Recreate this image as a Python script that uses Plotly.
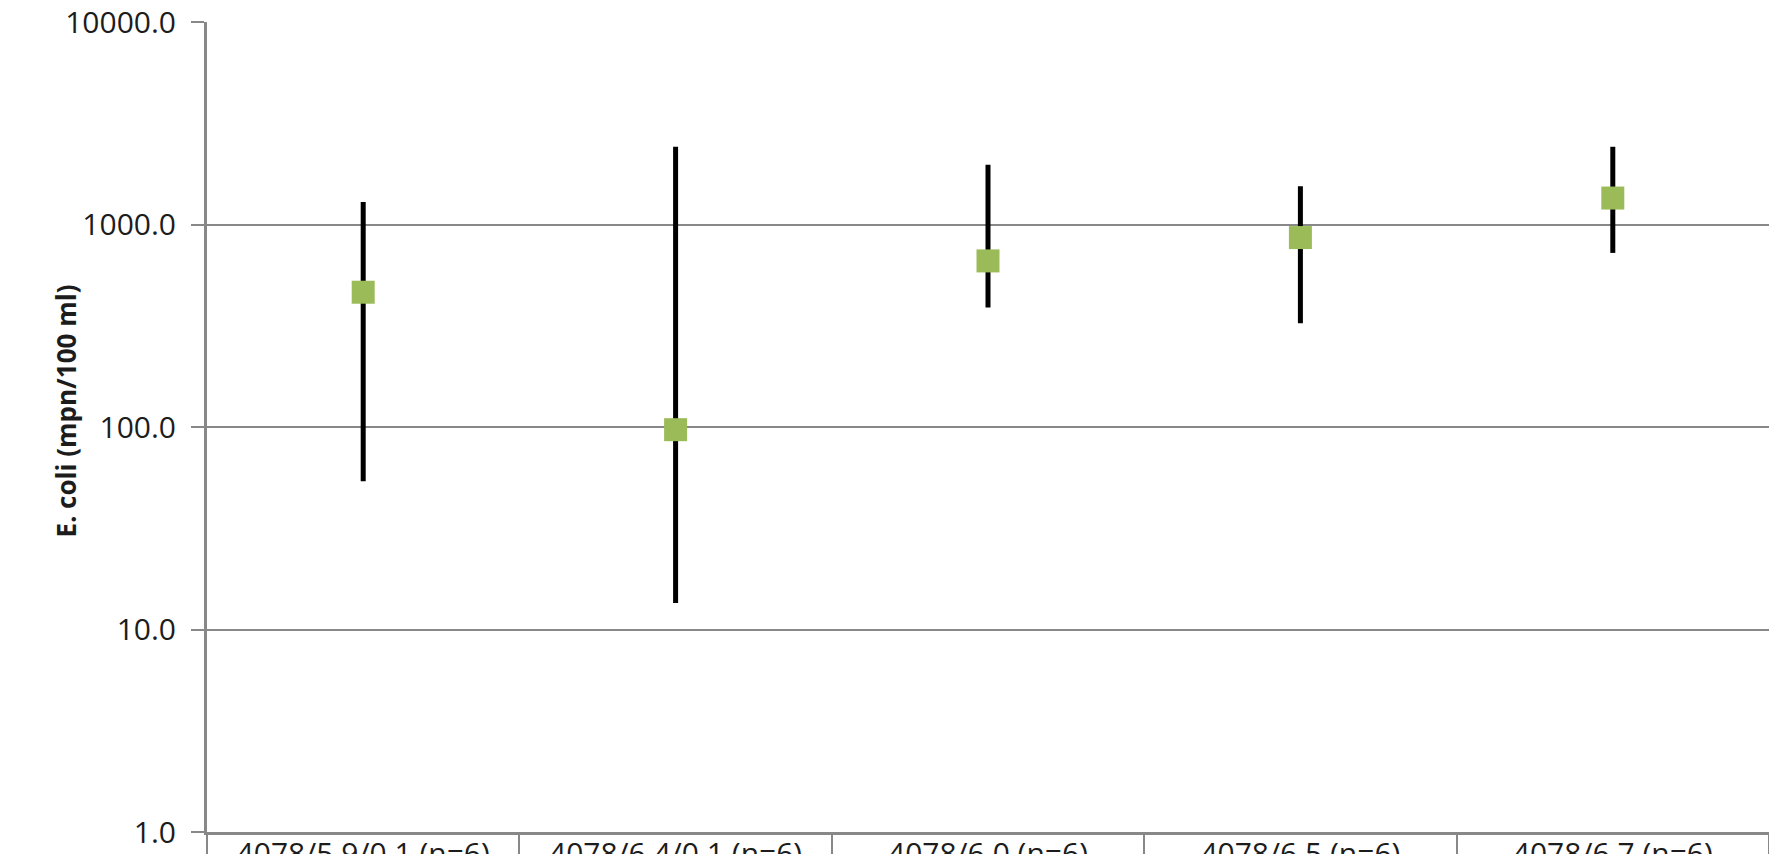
import plotly.graph_objects as go

# Sampling sites / conditions on the category axis
categories = [
    "4078/5.9/0.1 (n=6)",
    "4078/6.4/0.1 (n=6)",
    "4078/6.0 (n=6)",
    "4078/6.5 (n=6)",
    "4078/6.7 (n=6)",
]

# E. coli counts (mpn/100 ml): central value with min / max range
center_vals = [463, 97, 661, 862, 1351]
max_vals = [1290, 2420, 1974, 1543, 2420]
min_vals = [54, 13.5, 389, 325, 724]

# Log-axis tick positions and their labels
y_tick_vals = [1, 10, 100, 1000, 10000]
y_tick_text = ["1.0", "10.0", "100.0", "1000.0", "10000.0"]

GRAY = "#888888"
TEXT = "#1c1c1c"

err_plus = [hi - c for hi, c in zip(max_vals, center_vals)]
err_minus = [c - lo for lo, c in zip(min_vals, center_vals)]

fig = go.Figure()
fig.add_trace(
    go.Scatter(
        x=categories,
        y=center_vals,
        mode="markers",
        marker=dict(symbol="square", size=23, color="#9BBB59", line=dict(width=0)),
        error_y=dict(
            type="data",
            symmetric=False,
            array=err_plus,
            arrayminus=err_minus,
            color="black",
            thickness=5,
            width=0,
        ),
        showlegend=False,
    )
)

fig.update_layout(
    width=1769,
    height=854,
    margin=dict(l=207, r=0, t=22, b=22),
    paper_bgcolor="white",
    plot_bgcolor="white",
    font=dict(family="Open Sans", color=TEXT),
    xaxis=dict(
        type="category",
        categoryorder="array",
        categoryarray=categories,
        range=[-0.5, 4.5],
        automargin=False,
        showline=True,
        linecolor=GRAY,
        linewidth=3,
        showgrid=False,
        ticks="outside",
        tickson="boundaries",
        ticklen=40,
        tickwidth=2,
        tickcolor=GRAY,
        ticklabelstandoff=-7,
        ticklabeloverflow="allow",
        tickfont=dict(family="Open Sans", size=30, color=TEXT),
    ),
    yaxis=dict(
        type="log",
        range=[0, 4],
        automargin=False,
        tickvals=y_tick_vals,
        ticktext=y_tick_text,
        showline=True,
        linecolor=GRAY,
        linewidth=3,
        showgrid=True,
        gridcolor=GRAY,
        gridwidth=2,
        ticks="outside",
        ticklen=13,
        tickwidth=2,
        tickcolor=GRAY,
        ticklabelstandoff=9,
        ticklabeloverflow="allow",
        tickfont=dict(family="Open Sans", size=30, color=TEXT),
    ),
    annotations=[
        dict(
            text="<b>E. coli (mpn/100 ml)</b>",
            xref="paper",
            yref="paper",
            x=0,
            y=0.519,
            xshift=-141,
            xanchor="center",
            yanchor="middle",
            textangle=-90,
            showarrow=False,
            font=dict(family="Open Sans", size=26, color=TEXT),
        )
    ],
)

fig.write_html("out.html")
